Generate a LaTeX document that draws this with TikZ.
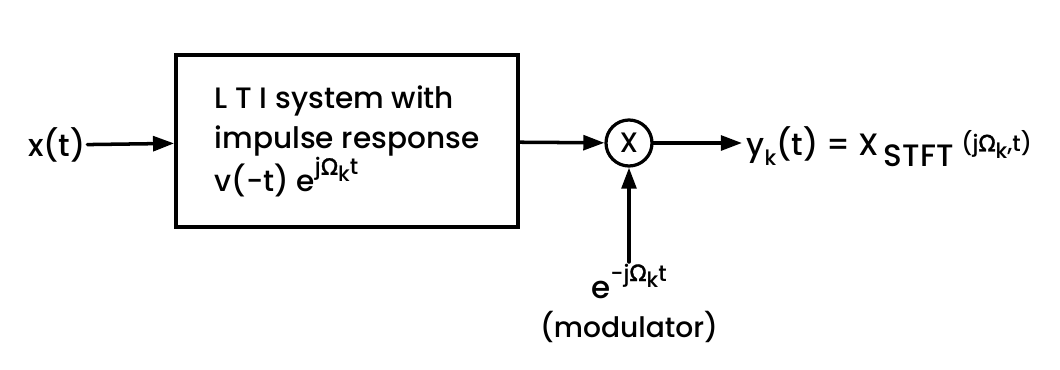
\documentclass[tikz,border=0pt]{standalone}
\usepackage{fontspec}
\setmainfont{Poppins Medium}
\newfontfamily\greekfont{DejaVu Sans}[FakeBold=1.5]
\usetikzlibrary{arrows.meta,positioning}
\newcommand{\Om}{{\greekfont Ω}}
\newcommand{\hiup}[1]{\raisebox{0.55em}{\fontsize{16}{16}\selectfont #1}}
\newcommand{\lodown}[1]{\raisebox{-0.3em}{\fontsize{15}{15}\selectfont #1}}
\tikzset{
  sig/.style={line width=2.5pt,-{Triangle[length=15pt,width=10.5pt]}},
  lti/.style={draw,line width=2.6pt,minimum width=8.55cm,minimum height=4.3cm,
    align=left,font=\fontsize{21}{28.5}\selectfont},
  mult/.style={draw,circle,line width=2.3pt,minimum size=1.15cm,inner sep=0pt,
    font=\fontsize{20}{20}\selectfont},
  lbl/.style={font=\fontsize{22}{24}\selectfont,inner sep=1pt}
}
\begin{document}
\begin{tikzpicture}[x=0.025cm,y=-0.025cm,line cap=round]
  \useasboundingbox[fill=white] (0,0) rectangle (1060,369);
  \node[lbl] (xin) at (57,145) {x(t)};
  \node[lti] (sys) at (347,141) {L T I system with\\impulse response\\
    v(−t) e\hiup{j\Om\lodown{k}t}};
  \node[mult] (mix) at (629,143) {X};
  \coordinate (out) at (742,143);
  \coordinate (mod) at (629,262);
  \node[lbl,anchor=west] (yk) at (745,147)
    {y\lodown{k}(t) = X\,\raisebox{-0.35em}{STFT} \raisebox{0.15em}{\fontsize{16}{16}\selectfont (j\Om\lodown{k},t)}};
  \node[lbl,anchor=north] (ex) at (mod) {e\hiup{−j\Om\lodown{k}t}};
  \node[lbl,below=7pt of ex,font=\fontsize{20}{24}\selectfont] (modname) {(modulator)};
  \draw[sig] (xin) -- (sys);
  \draw[sig] (sys) -- (mix);
  \draw[sig] (mix) -- (out);
  \draw[sig] (mod) -- (mix);
\end{tikzpicture}
\end{document}
